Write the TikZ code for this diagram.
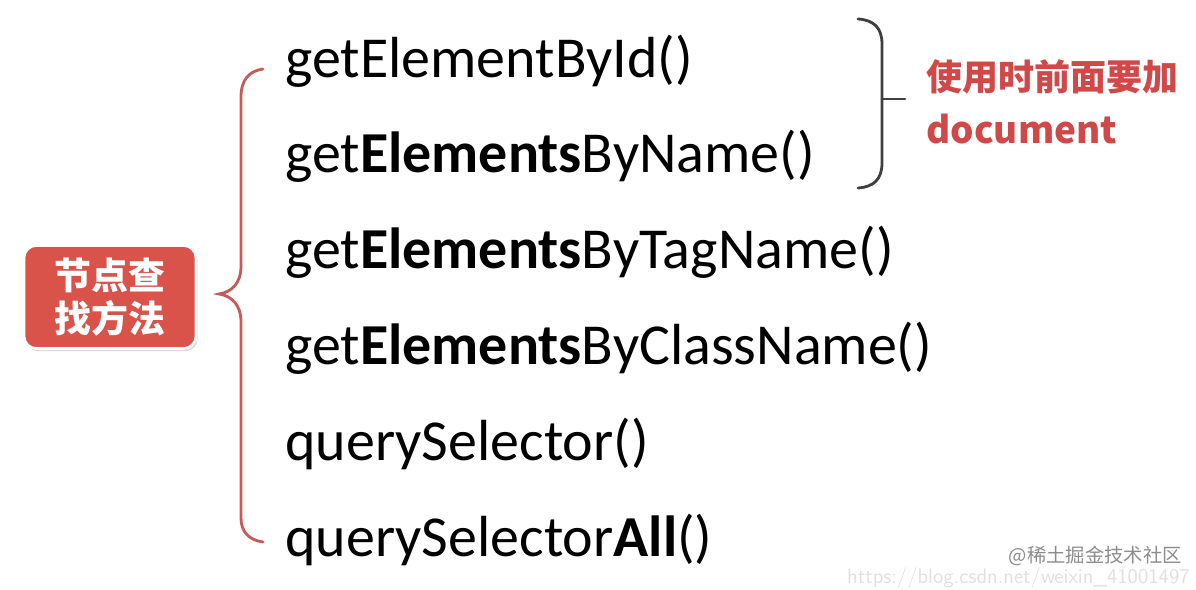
\documentclass[tikz,border=0pt]{standalone}
\usepackage{fontspec}
\setmainfont{Carlito}
\newfontfamily\cjkfont{Noto Sans CJK SC}
\usetikzlibrary{positioning,shadows}

\definecolor{boxred}{HTML}{D9534A}
\definecolor{notered}{HTML}{D04848}
\definecolor{bracered}{HTML}{C85A55}
\definecolor{bracegray}{HTML}{3F3F3F}

\begin{document}
\begin{tikzpicture}[
  x=0.02cm, y=-0.02cm,
  method/.style={anchor=base west, inner sep=0pt, font=\fontsize{33}{33}\selectfont},
  title/.style={fill=boxred, draw=white, line width=1.5pt, rounded corners=7pt,
    minimum width=3.44cm, minimum height=2.06cm, align=center, text=white,
    font=\cjkfont\bfseries\fontsize{21}{24.5}\selectfont,
    drop shadow={shadow xshift=1pt, shadow yshift=-1.5pt, opacity=.3}},
  note/.style={anchor=west, inner sep=0pt, text=notered, font=\cjkfont\bfseries\fontsize{20.5}{20.5}\selectfont},
  brace/.style={line width=1.6pt, line cap=round},
  watermark/.style={anchor=east, inner sep=0pt, font=\cjkfont\fontsize{11}{11}\selectfont}
]
  \useasboundingbox (0,0) rectangle (1196,590);

  \node[title] (title) at (110,297) {节点查\\找方法};

  \node[method] (byid) at (285,78) {getElementById()};
  \node[method] (byname) at (285,173) {get\textbf{Elements}ByName()};
  \node[method] (bytag) at (285,269) {get\textbf{Elements}ByTagName()};
  \node[method] (byclass) at (285,365) {get\textbf{Elements}ByClassName()};
  \node[method] (query) at (285,461) {querySelector()};
  \node[method] (queryall) at (285,557) {querySelector\textbf{All}()};

  % big brace
  \draw[brace, bracered] (263,69) .. controls (249,71) and (241,80) .. (241,97) -- (241,266)
    .. controls (241,283) and (232,292) .. (219,294)
    .. controls (232,296) and (241,305) .. (241,322) -- (241,518)
    .. controls (241,532) and (249,540) .. (263,542);

  % small brace
  \draw[brace, bracegray] (858,19) .. controls (874,20) and (882,28) .. (882,44) -- (882,163)
    .. controls (882,179) and (874,187) .. (858,188);
  \draw[brace, bracegray] (882,99) -- (905,99);

  \node[note] (usage) at (926,77) {使用时前面要加};
  \node[note, font=\cjkfont\bfseries\fontsize{21}{21}\selectfont] (docnote) at (926,129) {document};

  \node[watermark, text=black!45] (site) at (1182,556) {@稀土掘金技术社区};
  \node[watermark, text=black!12, font=\sffamily\fontsize{12}{12}\selectfont] (url) at (1190,578) {https://blog.csdn.net/weixin\_41001497};
\end{tikzpicture}
\end{document}
